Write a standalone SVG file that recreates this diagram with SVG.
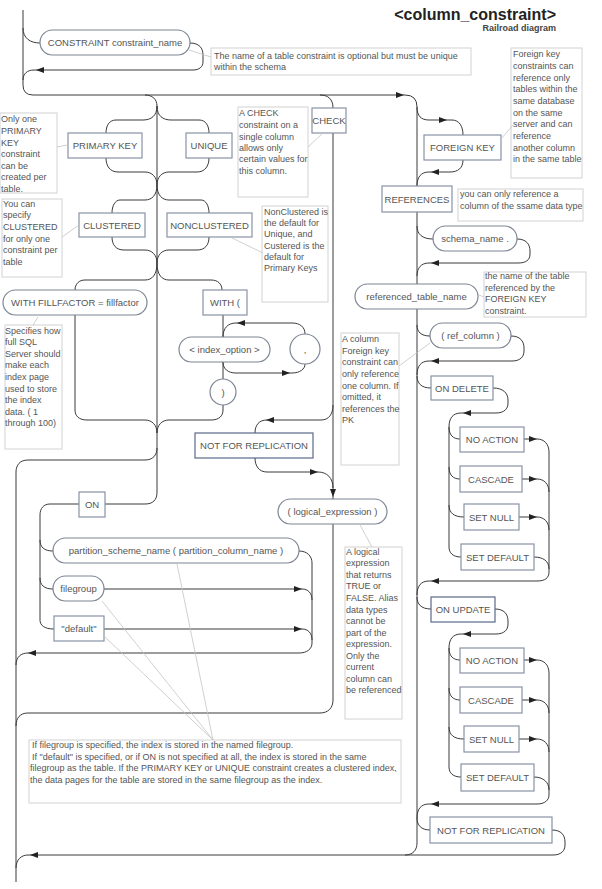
<svg xmlns="http://www.w3.org/2000/svg" width="602" height="889" viewBox="0 0 602 889">
<style>
.bg{fill:#ffffff}
.box{fill:#ffffff;stroke:#8893a6;stroke-width:1.2}
.dbox{fill:#ffffff;stroke:#5a6a88;stroke-width:1.2}
.ov{fill:#ffffff;stroke:#7d8594;stroke-width:1.2}
.t{font-family:"Liberation Sans",Arial,sans-serif;font-size:9.5px;fill:#555;text-anchor:middle}
.ln{fill:none;stroke:#3a3a3a;stroke-width:1}
.note rect{fill:#ffffff;stroke:#d2d2d2;stroke-width:1}
.note text{font-family:"Liberation Sans",Arial,sans-serif;font-size:9px;fill:#555}
.ld{stroke:#c4c4c4;stroke-width:0.8;fill:none}
.ah{fill:#222}
</style>
<defs>
<polygon id="aR" class="ah" points="0,0 -8,-3 -8,3"/>
<polygon id="aL" class="ah" points="0,0 8,-3 8,3"/>
<polygon id="aD" class="ah" points="0,0 -3,-8 3,-8"/>
</defs>
<rect class="bg" x="0" y="0" width="602" height="889"/>

<g id="title">
<text x="556" y="20" style="font-family:'Liberation Sans',Arial,sans-serif;font-size:16px;font-weight:bold;fill:#222;text-anchor:end">&lt;column_constraint&gt;</text>
<text x="556" y="31" style="font-family:'Liberation Sans',Arial,sans-serif;font-size:9px;font-weight:bold;fill:#444;text-anchor:end">Railroad diagram</text>
</g>

<g id="connectors">
<!-- top spine & CONSTRAINT loop -->
<path class="ln" d="M23,10 V85 Q23,95 33,95 H405 Q417,95 417,107 V843 C417,850 413,855 405,855"/>
<path class="ln" d="M23,28 C23,38 30,43 40,43"/>
<path class="ln" d="M190,43 C199,43 203,48 203,55 V62 C203,67 199,70 193,70 H34 C27,70 23,74 23,80"/>
<!-- FOREIGN KEY -->
<path class="ln" d="M417,107 C417,116 421,120 429,120 H452 C459,120 463,126 463,135"/>
<path class="ln" d="M463,160 C463,168 458,172 450,172 H429 C421,172 417,177 417,186"/>
<!-- schema_name -->
<path class="ln" d="M417,226 C417,234 422,239 433,239"/>
<path class="ln" d="M517,239 C526,239 530,244 530,251 V254 C530,260 526,263 518,263 H429 C421,263 417,268 417,276"/>
<!-- ref_column -->
<path class="ln" d="M417,325 C417,332 421,336 430,336"/>
<path class="ln" d="M511,336 C520,336 524,341 524,348 V351 C524,357 520,361 512,361 H429 C421,361 417,366 417,375"/>
<!-- ON DELETE -->
<path class="ln" d="M417,376 C417,383 421,388 431,388"/>
<path class="ln" d="M493,388 C503,388 508,393 508,400 V403 C508,409 504,413 496,413 H461 C453,413 449,418 449,427 V547 C449,553 453,557 461,557"/>
<path class="ln" d="M449,427 C449,435 453,439 460,439"/>
<path class="ln" d="M449,467 C449,475 453,479 460,479"/>
<path class="ln" d="M449,505 C449,513 454,517 464,517"/>
<path class="ln" d="M524,439 H537 C544,439 549,444 549,452 V572 C549,578 545,581 537,581 H429 C421,581 417,586 417,595"/>
<path class="ln" d="M522,479 H537 C544,479 549,484 549,492"/>
<path class="ln" d="M519,517 H537 C544,517 549,522 549,530"/>
<path class="ln" d="M534,557 C543,557 549,561 549,569"/>
<!-- ON UPDATE -->
<path class="ln" d="M417,597 C417,604 421,609 431,609"/>
<path class="ln" d="M495,609 C504,609 508,614 508,621 V624 C508,630 504,634 496,634 H461 C453,634 449,639 449,648 V767 C449,773 453,777 461,777"/>
<path class="ln" d="M449,648 C449,656 453,660 460,660"/>
<path class="ln" d="M449,688 C449,696 453,700 460,700"/>
<path class="ln" d="M449,727 C449,735 454,739 464,739"/>
<path class="ln" d="M524,660 H537 C544,660 549,665 549,673 V795 C549,800 545,804 537,804 H429 C421,804 417,809 417,818"/>
<path class="ln" d="M522,700 H537 C544,700 549,705 549,713"/>
<path class="ln" d="M519,739 H537 C544,739 549,744 549,752"/>
<path class="ln" d="M534,777 C543,777 549,782 549,790"/>
<!-- NOT FOR REPLICATION right -->
<path class="ln" d="M417,818 C417,825 421,830 430,830"/>
<path class="ln" d="M552,830 C561,830 565,835 565,842 V845 C565,851 561,855 553,855 H28 C21,855 16,860 16,868"/>
<!-- central spine x=157 -->
<path class="ln" d="M145,95 C152,95 157,99 157,106 V492 C157,500 153,504 145,504 H105"/>
<!-- PK / UNIQUE -->
<path class="ln" d="M157,106 C157,116 151,120 143,120 H116 C109,120 106,126 106,133"/>
<path class="ln" d="M157,106 C157,116 163,120 171,120 H199 C206,120 209,126 209,133"/>
<path class="ln" d="M106,158 C106,166 110,172 118,172 H145 C152,172 157,177 157,185"/>
<path class="ln" d="M209,158 C209,166 205,172 197,172 H169 C162,172 157,177 157,185"/>
<!-- CLUSTERED / NONCLUSTERED -->
<path class="ln" d="M157,185 C157,195 152,200 145,200 H120 C115,200 112,206 112,213"/>
<path class="ln" d="M157,185 C157,195 162,200 169,200 H201 C206,200 209,206 209,213"/>
<path class="ln" d="M112,237 C112,245 116,250 124,250 H145 C152,250 157,255 157,263"/>
<path class="ln" d="M209,237 C209,245 205,250 197,250 H169 C162,250 157,255 157,263"/>
<!-- WITH FILLFACTOR / WITH ( -->
<path class="ln" d="M157,263 C157,275 152,280 145,280 H85 C79,280 75,284 75,290"/>
<path class="ln" d="M157,263 C157,275 162,280 169,280 H211 C218,280 222,284 222,290"/>
<path class="ln" d="M75,315 V410 C75,416 79,420 87,420 H145 C152,420 157,425 157,433"/>
<path class="ln" d="M223,315 V337"/>
<path class="ln" d="M223,362 V379"/>
<path class="ln" d="M223,405 V410 C223,416 219,420 211,420 H169 C162,420 157,425 157,433"/>
<path class="ln" d="M305,334 C305,327 300,323 292,323 H236 C228,323 223,328 223,337"/>
<path class="ln" d="M223,362 C223,369 228,373 236,373 H292 C300,373 305,369 305,364"/>
<!-- skip ON -> x=16 -->
<path class="ln" d="M157,448 C157,455 153,460 145,460 H28 C20,460 16,465 16,472 V882"/>
<!-- ON group -->
<path class="ln" d="M79,504 H50 C44,504 40,508 40,515 V620 C40,625 44,629 54,629"/>
<path class="ln" d="M40,540 C40,547 44,551 53,551"/>
<path class="ln" d="M40,578 C40,585 44,589 53,589"/>
<path class="ln" d="M299,551 C307,551 312,556 312,563 V643 C312,649 307,653 299,653 H28 C21,653 16,657 16,665"/>
<path class="ln" d="M104,589 H302 C308,589 312,593 312,600"/>
<path class="ln" d="M104,629 H302 C308,629 312,633 312,640"/>
<!-- CHECK path -->
<path class="ln" d="M320,95 C328,95 333,99 333,108"/>
<path class="ln" d="M333,133 V499"/>
<path class="ln" d="M333,405 C333,414 329,420 321,420 H267 C259,420 255,425 255,433"/>
<path class="ln" d="M255,458 C255,466 259,472 267,472 H318 C327,472 333,478 333,488"/>
<path class="ln" d="M333,524 V700 C333,708 328,713 320,713 H28 C20,713 16,718 16,726"/>
<!-- arrowheads -->
<use href="#aL" x="36" y="70"/>
<use href="#aR" x="404" y="95"/>
<use href="#aR" x="447" y="120"/>
<use href="#aL" x="431" y="172"/>
<use href="#aL" x="431" y="263"/>
<use href="#aL" x="431" y="361"/>
<use href="#aL" x="463" y="413"/>
<use href="#aR" x="537" y="439"/>
<use href="#aR" x="537" y="479"/>
<use href="#aR" x="537" y="517"/>
<use href="#aL" x="431" y="581"/>
<use href="#aL" x="463" y="634"/>
<use href="#aR" x="537" y="660"/>
<use href="#aR" x="537" y="700"/>
<use href="#aR" x="537" y="739"/>
<use href="#aL" x="431" y="804"/>
<use href="#aL" x="30" y="855"/>
<use href="#aL" x="237" y="323"/>
<use href="#aR" x="290" y="373"/>
<use href="#aL" x="266" y="420"/>
<use href="#aR" x="318" y="472"/>
<use href="#aD" x="333" y="497"/>
<use href="#aR" x="302" y="589"/>
<use href="#aR" x="302" y="629"/>
<use href="#aL" x="28" y="653"/>
</g>

<g id="n-constraint"><rect class="ov" x="40" y="30" width="150" height="25" rx="12.5"/><text class="t" x="115" y="46">CONSTRAINT constraint_name</text></g>
<g id="n-primarykey"><rect class="box" x="68" y="133" width="74" height="25"/><text class="t" x="105" y="149">PRIMARY KEY</text></g>
<g id="n-unique"><rect class="box" x="186" y="133" width="46" height="25"/><text class="t" x="209" y="149">UNIQUE</text></g>
<g id="n-check"><rect class="box" x="312" y="108" width="34" height="25"/><text class="t" x="329" y="124">CHECK</text></g>
<g id="n-foreignkey"><rect class="box" x="424" y="135" width="77" height="25"/><text class="t" x="462.5" y="151">FOREIGN KEY</text></g>
<g id="n-clustered"><rect class="box" x="79" y="213" width="66" height="24"/><text class="t" x="112" y="228.5">CLUSTERED</text></g>
<g id="n-nonclustered"><rect class="box" x="167" y="213" width="85" height="24"/><text class="t" x="209.5" y="228.5">NONCLUSTERED</text></g>
<g id="n-references"><rect class="box" x="382" y="186" width="70" height="26"/><text class="t" x="417" y="202.5">REFERENCES</text></g>
<g id="n-schema"><rect class="ov" x="433" y="226" width="84" height="25" rx="12.5"/><text class="t" x="475" y="242">schema_name .</text></g>
<g id="n-reftable"><rect class="ov" x="355" y="284" width="123" height="25" rx="12.5"/><text class="t" x="416.5" y="300">referenced_table_name</text></g>
<g id="n-fillfactor"><rect class="ov" x="3" y="290" width="144" height="25" rx="12.5"/><text class="t" x="75" y="306">WITH FILLFACTOR = fillfactor</text></g>
<g id="n-with"><rect class="box" x="203" y="290" width="44" height="25"/><text class="t" x="225" y="306">WITH (</text></g>
<g id="n-indexoption"><rect class="ov" x="179" y="337" width="91" height="25" rx="12.5"/><text class="t" x="224.5" y="353">&lt; index_option &gt;</text></g>
<g id="n-comma"><circle class="ov" cx="305" cy="349" r="15"/><text class="t" x="305" y="353">,</text></g>
<g id="n-close"><circle class="ov" cx="223" cy="392" r="13"/><text class="t" x="223" y="396">)</text></g>
<g id="n-refcolumn"><rect class="ov" x="430" y="323" width="81" height="25" rx="12.5"/><text class="t" x="470.5" y="339">( ref_column )</text></g>
<g id="n-ondelete"><rect class="box" x="431" y="376" width="62" height="24"/><text class="t" x="462" y="391.5">ON DELETE</text></g>
<g id="n-noaction1"><rect class="box" x="460" y="427" width="64" height="25"/><text class="t" x="492" y="443">NO ACTION</text></g>
<g id="n-cascade1"><rect class="box" x="460" y="466" width="62" height="26"/><text class="t" x="491" y="482.5">CASCADE</text></g>
<g id="n-setnull1"><rect class="box" x="464" y="504" width="55" height="26"/><text class="t" x="491.5" y="520.5">SET NULL</text></g>
<g id="n-setdefault1"><rect class="box" x="461" y="544" width="73" height="26"/><text class="t" x="497.5" y="560.5">SET DEFAULT</text></g>
<g id="n-nfr-left"><rect class="dbox" x="195" y="433" width="118" height="25"/><text class="t" x="254" y="449">NOT FOR REPLICATION</text></g>
<g id="n-logical"><rect class="ov" x="278" y="499" width="109" height="25" rx="12.5"/><text class="t" x="332.5" y="515">( logical_expression )</text></g>
<g id="n-on"><rect class="box" x="79" y="492" width="26" height="25"/><text class="t" x="92" y="508">ON</text></g>
<g id="n-partition"><rect class="ov" x="53" y="538" width="246" height="25" rx="12.5"/><text class="t" x="176" y="554">partition_scheme_name ( partition_column_name )</text></g>
<g id="n-filegroup"><rect class="ov" x="53" y="576" width="51" height="25" rx="12.5"/><text class="t" x="78.5" y="592">filegroup</text></g>
<g id="n-default"><rect class="box" x="54" y="616" width="50" height="25"/><text class="t" x="79" y="632">"default"</text></g>
<g id="n-onupdate"><rect class="dbox" x="431" y="597" width="64" height="25"/><text class="t" x="463" y="613">ON UPDATE</text></g>
<g id="n-noaction2"><rect class="box" x="460" y="648" width="64" height="25"/><text class="t" x="492" y="664">NO ACTION</text></g>
<g id="n-cascade2"><rect class="box" x="460" y="687" width="62" height="26"/><text class="t" x="491" y="703.5">CASCADE</text></g>
<g id="n-setnull2"><rect class="box" x="464" y="726" width="55" height="26"/><text class="t" x="491.5" y="742.5">SET NULL</text></g>
<g id="n-setdefault2"><rect class="box" x="461" y="764" width="73" height="27"/><text class="t" x="497.5" y="781">SET DEFAULT</text></g>
<g id="n-nfr-right"><rect class="box" x="430" y="817" width="122" height="26"/><text class="t" x="491" y="833.5">NOT FOR REPLICATION</text></g>

<g id="notes">
<g class="note" id="note-constraint"><rect x="211" y="48" width="260" height="27"/><text x="214" y="59">The name of a table constraint is optional but must be unique</text><text x="214" y="70">within the schema</text></g>
<g class="note" id="note-fk"><rect x="511" y="48" width="71" height="130"/>
<text x="513" y="57">Foreign key</text><text x="513" y="69">constraints can</text><text x="513" y="81">reference only</text><text x="513" y="92">tables within the</text><text x="513" y="104">same database</text><text x="513" y="116">on the same</text><text x="513" y="127">server and can</text><text x="513" y="139">reference</text><text x="513" y="151">another column</text><text x="513" y="162">in the same table</text></g>
<g class="note" id="note-pk"><rect x="0" y="113" width="57" height="80"/>
<text x="1" y="122">Only one</text><text x="1" y="134">PRIMARY</text><text x="1" y="146">KEY</text><text x="1" y="157">constraint</text><text x="1" y="169">can be</text><text x="1" y="180">created per</text><text x="1" y="192">table.</text></g>
<g class="note" id="note-check"><rect x="238" y="107" width="70" height="90"/>
<text x="239" y="116">A CHECK</text><text x="239" y="128">constraint on a</text><text x="239" y="140">single column</text><text x="239" y="151">allows only</text><text x="239" y="162">certain values for</text><text x="239" y="174">this column.</text></g>
<g class="note" id="note-clustered"><rect x="2" y="199" width="60" height="78"/>
<text x="3" y="207">You can</text><text x="3" y="218">specify</text><text x="3" y="230">CLUSTERED</text><text x="3" y="242">for only one</text><text x="3" y="253">constraint per</text><text x="3" y="265">table</text></g>
<g class="note" id="note-nonclustered"><rect x="262" y="206" width="66" height="96"/>
<text x="264" y="215">NonClustered is</text><text x="264" y="226">the default for</text><text x="264" y="237">Unique, and</text><text x="264" y="249">Custered is the</text><text x="264" y="260">default for</text><text x="264" y="271">Primary Keys</text></g>
<g class="note" id="note-references"><rect x="458" y="189" width="125" height="32"/><text x="460" y="197">you can only reference a</text><text x="460" y="209">column of the ssame data type</text></g>
<g class="note" id="note-reftable"><rect x="484" y="272" width="102" height="45"/>
<text x="485" y="279">the name of the table</text><text x="485" y="291">referenced by the</text><text x="485" y="302">FOREIGN KEY</text><text x="485" y="314">constraint.</text></g>
<g class="note" id="note-refcolumn"><rect x="341" y="333" width="58" height="132"/>
<text x="342" y="342">A column</text><text x="342" y="354">Foreign key</text><text x="342" y="365">constraint can</text><text x="342" y="377">only reference</text><text x="342" y="389">one column. If</text><text x="342" y="400">omitted, it</text><text x="342" y="412">references the</text><text x="342" y="423">PK</text></g>
<g class="note" id="note-fillfactor"><rect x="5" y="325" width="57" height="124"/>
<text x="5" y="334">Specifies how</text><text x="5" y="345">full SQL</text><text x="5" y="357">Server should</text><text x="5" y="368">make each</text><text x="5" y="380">index page</text><text x="5" y="392">used to store</text><text x="5" y="403">the index</text><text x="5" y="415">data. ( 1</text><text x="5" y="426">through 100)</text></g>
<g class="note" id="note-logical"><rect x="345" y="547" width="57" height="172"/>
<text x="346" y="555">A logical</text><text x="346" y="566">expression</text><text x="346" y="578">that returns</text><text x="346" y="589">TRUE or</text><text x="346" y="601">FALSE. Alias</text><text x="346" y="613">data types</text><text x="346" y="624">cannot be</text><text x="346" y="636">part of the</text><text x="346" y="647">expression.</text><text x="346" y="659">Only the</text><text x="346" y="670">current</text><text x="346" y="682">column can</text><text x="346" y="693">be referenced</text></g>
<g class="note" id="note-filegroup"><rect x="29" y="740" width="372" height="63"/>
<text x="32" y="748">If filegroup is specified, the index is stored in the named filegroup.</text>
<text x="32" y="760"> If "default" is specified, or if ON is not specified at all, the index is stored in the same</text>
<text x="30" y="771">filegroup as the table. If the PRIMARY KEY or UNIQUE constraint creates a clustered index,</text>
<text x="30" y="783">the data pages for the table are stored in the same filegroup as the index.</text></g>
<g id="leaders">
<path class="ld" d="M211,57 L189,50"/>
<path class="ld" d="M513,125 L501,139"/>
<path class="ld" d="M57,147 L67,145"/>
<path class="ld" d="M308,147 L323,133"/>
<path class="ld" d="M62,237 L79,225"/>
<path class="ld" d="M263,253 L232,238"/>
<path class="ld" d="M484,297 L479,295"/>
<path class="ld" d="M399,366 L430,343"/>
<path class="ld" d="M33,325 L38,317"/>
<path class="ld" d="M372,547 L360,525"/>
<path class="ld" d="M213,740 L177,564"/>
<path class="ld" d="M213,740 L102,601"/>
<path class="ld" d="M213,740 L105,637"/>
</g>
</g>
</svg>
